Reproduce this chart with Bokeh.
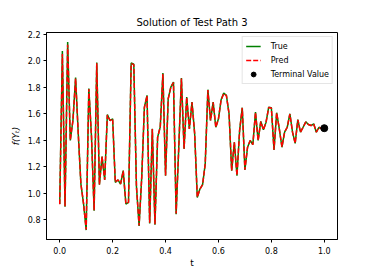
from bokeh.plotting import figure
from bokeh.models import Range1d, FixedTicker, PrintfTickFormatter, Legend, LegendItem
from bokeh.embed import file_html
from bokeh.resources import INLINE

t = [round(i * 0.01, 2) for i in range(101)]

true_vals = [
    0.917, 2.074, 0.896, 2.142, 1.397, 1.55, 1.872, 1.45, 1.07, 0.92,
    0.72, 1.789, 1.43, 0.866, 1.986, 1.063, 1.275, 1.099, 1.594, 1.548,
    1.561, 1.081, 1.099, 1.068, 1.169, 0.917, 0.929, 1.983, 1.973, 1.05,
    0.752, 1.12, 1.649, 1.738, 0.77, 1.485, 0.76, 1.422, 1.50, 1.907,
    1.131, 1.713, 1.80, 1.839, 0.84, 1.346, 1.869, 1.334, 1.725, 1.485,
    1.687, 1.45, 0.967, 1.03, 1.063, 1.22, 1.781, 1.548, 1.687, 1.497,
    1.561, 1.705, 1.755, 1.738, 1.6, 1.169, 1.384, 1.131, 1.473, 1.645,
    1.175, 1.346, 1.397, 1.366, 1.611, 1.397, 1.541, 1.478, 1.535, 1.649,
    1.645, 1.326, 1.607, 1.485, 1.346, 1.46, 1.497, 1.599, 1.46, 1.375,
    1.555, 1.46, 1.497, 1.538, 1.518, 1.51, 1.523, 1.46, 1.497, 1.485,
    1.49,
]

pred_vals = [
    0.915, 2.05, 0.90, 2.12, 1.40, 1.55, 1.865, 1.45, 1.07, 0.92,
    0.725, 1.785, 1.43, 0.87, 1.98, 1.065, 1.275, 1.10, 1.59, 1.548,
    1.56, 1.082, 1.10, 1.07, 1.168, 0.92, 0.93, 1.978, 1.97, 1.05,
    0.755, 1.12, 1.645, 1.735, 0.775, 1.483, 0.765, 1.42, 1.50, 1.90,
    1.133, 1.71, 1.80, 1.835, 0.845, 1.346, 1.865, 1.335, 1.722, 1.485,
    1.685, 1.45, 0.97, 1.03, 1.063, 1.22, 1.778, 1.548, 1.685, 1.497,
    1.56, 1.703, 1.752, 1.736, 1.6, 1.17, 1.384, 1.133, 1.473, 1.643,
    1.177, 1.346, 1.397, 1.366, 1.609, 1.397, 1.54, 1.478, 1.535, 1.647,
    1.643, 1.328, 1.605, 1.485, 1.348, 1.46, 1.497, 1.597, 1.46, 1.376,
    1.553, 1.46, 1.497, 1.537, 1.518, 1.51, 1.522, 1.461, 1.497, 1.486,
    1.49,
]

terminal_t = [1.0]
terminal_v = [1.49]

x_ticks = [0.0, 0.2, 0.4, 0.6, 0.8, 1.0]
y_ticks = [0.8, 1.0, 1.2, 1.4, 1.6, 1.8, 2.0, 2.2]

FONT = "DejaVu Sans"

p = figure(
    width=374, height=273,
    output_backend="svg", toolbar_location=None,
    x_range=Range1d(-0.05, 1.05), y_range=Range1d(0.649, 2.213),
    min_border_left=46, min_border_right=37,
    min_border_top=32, min_border_bottom=34,
    title="Solution of Test Path 3",
)

p.title.align = "center"
p.title.text_font = FONT
p.title.text_font_size = "10px"
p.title.text_font_style = "normal"
p.title.text_color = "black"

p.xgrid.visible = False
p.ygrid.visible = False
p.outline_line_color = "black"
p.outline_line_alpha = 1.0
p.outline_line_width = 1
p.background_fill_color = "white"
p.border_fill_color = "white"

for ax in (p.xaxis[0], p.yaxis[0]):
    ax.minor_tick_line_color = None
    ax.major_tick_in = 0
    ax.major_tick_out = 3
    ax.major_label_text_font = FONT
    ax.major_label_text_font_size = "8px"
    ax.major_label_text_color = "black"
    ax.axis_line_color = "black"
    ax.major_tick_line_color = "black"
    ax.axis_label_text_font = FONT
    ax.axis_label_text_font_size = "9px"
    ax.axis_label_text_color = "black"
    ax.formatter = PrintfTickFormatter(format="%.1f")

p.xaxis.major_label_standoff = 4
p.xaxis.axis_label_standoff = 1
p.yaxis.major_label_standoff = 3
p.yaxis.axis_label_standoff = 4

p.xaxis.ticker = FixedTicker(ticks=x_ticks)
p.yaxis.ticker = FixedTicker(ticks=y_ticks)
p.xaxis.axis_label = "t"
p.xaxis.axis_label_text_font_style = "normal"
p.yaxis.axis_label = "f(Y\u209c)"
p.yaxis.axis_label_text_font_style = "italic"

l_true = p.line(t, true_vals, line_color="green", line_width=1.5)
l_pred = p.line(t, pred_vals, line_color="red", line_width=1.5, line_dash="5 2")
l_term = p.scatter(terminal_t, terminal_v, size=7, fill_color="black", line_color="black")

legend = Legend(
    items=[
        LegendItem(label="True", renderers=[l_true]),
        LegendItem(label="Pred", renderers=[l_pred]),
        LegendItem(label="Terminal Value", renderers=[l_term]),
    ],
    location="top_right",
    label_text_font=FONT,
    label_text_font_size="8px",
    label_text_color="black",
    glyph_width=15,
    glyph_height=12,
    label_height=12,
    label_standoff=10,
    spacing=2,
    padding=3,
    margin=4,
    border_line_color="#cccccc",
    border_line_width=1,
    background_fill_alpha=0.8,
)
p.add_layout(legend)

open("out.html", "w").write(file_html(p, INLINE))
